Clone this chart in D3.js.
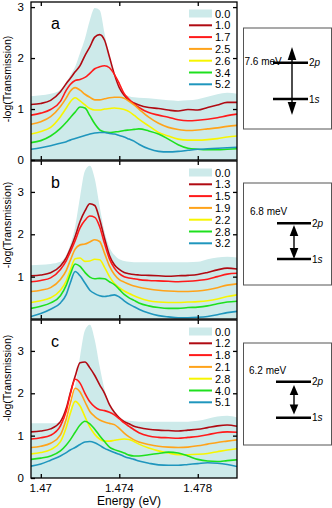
<!DOCTYPE html>
<html><head><meta charset="utf-8">
<script src="https://cdn.jsdelivr.net/npm/d3@7"></script>
<style>
html,body{margin:0;padding:0;background:#fff;}
svg{display:block;font-family:"Liberation Sans",Arial,sans-serif;}
</style></head>
<body><svg id="c" width="332" height="508"></svg>
<script>
// Energy grid (eV)
const energy = [1.4695,1.4700,1.4705,1.4710,1.4713,1.4715,1.47175,1.4720,1.47225,1.4725,1.47275,1.4730,1.47325,1.4735,1.47375,1.4740,1.47425,1.4745,1.47475,1.4750,1.4755,1.4760,1.4765,1.4770,1.4775,1.4780,1.4785,1.4790,1.4795,1.4800];
const xTicks = [1.470, 1.474, 1.478];
const xTickLabels = ["1.47", "1.474", "1.478"];
const yTicksA = [0, 1, 2, 3];
const yTicksB = [1, 2, 3];
const yTicksC = [0, 1, 2, 3];

// Panel a
const labelsA = ["0.0","1.0","1.7","2.5","2.6","3.4","5.2"];
const a00 = [1.25,1.27,1.30,1.38,1.53,1.66,1.83,2.10,2.38,2.74,2.98,2.94,2.48,1.99,1.64,1.42,1.30,1.25,1.23,1.22,1.21,1.19,1.17,1.16,1.17,1.19,1.24,1.29,1.32,1.30];
const a10 = [1.09,1.11,1.17,1.34,1.50,1.60,1.73,1.85,2.05,2.22,2.41,2.46,2.35,2.02,1.68,1.42,1.27,1.17,1.12,1.08,1.03,1.01,0.98,0.96,0.99,0.98,1.03,1.08,1.13,1.13];
const a17 = [0.88,0.92,0.99,1.15,1.37,1.48,1.56,1.58,1.62,1.70,1.79,1.83,1.85,1.81,1.68,1.50,1.30,1.19,1.10,1.03,0.93,0.88,0.84,0.79,0.77,0.78,0.80,0.83,0.87,0.90];
const a25 = [0.70,0.75,0.85,1.05,1.22,1.35,1.42,1.37,1.29,1.23,1.18,1.18,1.20,1.22,1.23,1.23,1.21,1.15,1.08,1.00,0.84,0.72,0.64,0.60,0.58,0.59,0.61,0.63,0.66,0.68];
const a26 = [0.51,0.56,0.64,0.85,1.02,1.14,1.22,1.16,1.08,1.01,0.98,0.98,1.00,1.01,1.02,1.01,0.99,0.95,0.88,0.80,0.67,0.54,0.47,0.41,0.39,0.39,0.40,0.42,0.45,0.47];
const a34 = [0.34,0.38,0.47,0.62,0.74,0.83,0.94,1.04,1.02,0.87,0.71,0.59,0.55,0.54,0.55,0.56,0.58,0.59,0.60,0.61,0.57,0.51,0.41,0.30,0.23,0.21,0.20,0.20,0.21,0.22];
const a52 = [0.21,0.24,0.28,0.33,0.36,0.39,0.42,0.45,0.48,0.51,0.53,0.54,0.54,0.52,0.51,0.48,0.45,0.41,0.37,0.31,0.22,0.17,0.16,0.17,0.19,0.21,0.22,0.23,0.24,0.25];

// Panel b
const labelsB = ["0.0","1.3","1.5","1.9","2.2","2.8","3.2"];
const b00 = [1.27,1.28,1.30,1.35,1.51,1.75,2.18,2.88,3.50,3.62,3.31,2.65,2.06,1.69,1.51,1.41,1.37,1.35,1.34,1.34,1.34,1.34,1.34,1.34,1.34,1.35,1.41,1.45,1.47,1.45];
const b13 = [1.02,1.04,1.09,1.25,1.45,1.65,1.95,2.30,2.55,2.72,2.68,2.35,1.90,1.50,1.28,1.17,1.10,1.07,1.05,1.04,1.03,1.02,1.01,1.02,1.03,1.05,1.10,1.16,1.20,1.18];
const b15 = [0.88,0.91,0.97,1.17,1.38,1.58,1.85,2.15,2.33,2.43,2.40,2.18,1.78,1.42,1.20,1.07,1.00,0.97,0.95,0.93,0.91,0.90,0.89,0.88,0.89,0.91,0.94,1.00,1.06,1.08];
const b19 = [0.65,0.68,0.74,0.93,1.15,1.38,1.65,1.75,1.77,1.82,1.87,1.83,1.55,1.25,1.05,0.93,0.87,0.82,0.78,0.75,0.71,0.68,0.66,0.65,0.65,0.66,0.69,0.74,0.80,0.83];
const b22 = [0.39,0.43,0.50,0.68,0.90,1.15,1.42,1.44,1.36,1.37,1.41,1.40,1.22,1.00,0.84,0.74,0.66,0.60,0.55,0.50,0.43,0.40,0.39,0.39,0.40,0.41,0.43,0.47,0.53,0.57];
const b28 = [0.25,0.30,0.38,0.55,0.80,1.05,1.30,1.24,1.10,0.99,0.95,0.96,0.95,0.88,0.81,0.70,0.58,0.50,0.44,0.38,0.31,0.27,0.25,0.25,0.27,0.28,0.31,0.36,0.40,0.42];
const b32 = [0.06,0.13,0.23,0.38,0.58,0.85,1.12,1.02,0.85,0.68,0.60,0.55,0.53,0.55,0.57,0.52,0.43,0.35,0.29,0.23,0.14,0.08,0.05,0.03,0.03,0.04,0.06,0.10,0.15,0.18];

// Panel c
const labelsC = ["0.0","1.2","1.8","2.1","2.8","4.0","5.1"];
const c00 = [1.29,1.29,1.29,1.31,1.39,1.62,2.17,2.87,3.49,3.62,3.26,2.63,2.09,1.74,1.54,1.43,1.37,1.35,1.34,1.33,1.33,1.33,1.33,1.33,1.33,1.35,1.40,1.45,1.47,1.43];
const c12 = [1.09,1.11,1.16,1.33,1.65,2.00,2.40,2.72,2.74,2.60,2.42,2.20,2.00,1.73,1.55,1.42,1.33,1.28,1.22,1.19,1.15,1.13,1.12,1.11,1.13,1.15,1.19,1.23,1.25,1.22];
const c18 = [0.92,0.95,1.01,1.23,1.58,1.97,2.33,2.24,2.00,1.80,1.68,1.61,1.59,1.55,1.49,1.40,1.30,1.22,1.14,1.07,0.99,0.96,0.95,0.94,0.96,0.98,1.02,1.07,1.09,1.08];
const c21 = [0.72,0.75,0.82,1.02,1.40,1.75,2.12,2.03,1.80,1.57,1.45,1.37,1.32,1.29,1.26,1.17,1.06,0.97,0.90,0.85,0.79,0.75,0.73,0.72,0.73,0.76,0.80,0.84,0.87,0.90];
const c28 = [0.57,0.60,0.67,0.86,1.20,1.52,1.81,1.70,1.45,1.20,1.03,0.92,0.87,0.87,0.89,0.91,0.92,0.91,0.86,0.80,0.71,0.64,0.59,0.55,0.55,0.56,0.58,0.62,0.66,0.69];
const c40 = [0.44,0.47,0.52,0.64,0.78,0.90,1.08,1.25,1.34,1.28,1.15,1.00,0.86,0.73,0.67,0.63,0.59,0.54,0.52,0.52,0.55,0.58,0.61,0.59,0.52,0.44,0.40,0.39,0.41,0.43];
const c51 = [0.28,0.33,0.42,0.52,0.60,0.66,0.72,0.79,0.85,0.86,0.83,0.77,0.70,0.65,0.60,0.56,0.51,0.47,0.44,0.40,0.35,0.31,0.30,0.30,0.32,0.34,0.36,0.35,0.32,0.27];

const lineColors = ["#b00a12","#ff1a1a","#ffa31a","#f7f500","#1ee01e","#1f96bd"];
const fillColor = "#cdeaea";

const energyLevels = [
  {gap:"7.6 meV"},{gap:"6.8 meV"},{gap:"6.2 meV"}
];

const svg = d3.select("#c");
const X0 = 31, X1 = 237;
const x = d3.scaleLinear().domain([1.4695, 1.4800]).range([X0, X1]);

const panels = [
  {id:"a", top:2, bottom:160, ymax:3.1, ticks:yTicksA, labels:labelsA, fill:a00, lines:[a10,a17,a25,a26,a34,a52], labelY:79},
  {id:"b", top:161, bottom:319, ymax:3.73, ticks:yTicksB, labels:labelsB, fill:b00, lines:[b13,b15,b19,b22,b28,b32], labelY:225},
  {id:"c", top:320, bottom:478, ymax:3.73, ticks:yTicksC, labels:labelsC, fill:c00, lines:[c12,c18,c21,c28,c40,c51], labelY:378}
];

panels.forEach((p, pi) => {
  const y = d3.scaleLinear().domain([0, p.ymax]).range([p.bottom, p.top]);
  const g = svg.append("g");
  const clipId = "clip" + p.id;
  svg.append("clipPath").attr("id", clipId).append("rect")
    .attr("x", X0).attr("y", p.top).attr("width", X1 - X0).attr("height", p.bottom - p.top);
  const pg = g.append("g").attr("clip-path", `url(#${clipId})`);
  const area = d3.area().x((d,i)=>x(energy[i])).y0(y(0)).y1(d=>y(d)).curve(d3.curveMonotoneX);
  pg.append("path").datum(p.fill).attr("d", area).attr("fill", fillColor);
  const line = d3.line().x((d,i)=>x(energy[i])).y(d=>y(d)).curve(d3.curveMonotoneX);
  p.lines.forEach((vals, k) => {
    pg.append("path").datum(vals).attr("d", line).attr("fill","none")
      .attr("stroke", lineColors[k]).attr("stroke-width", 1.6);
  });
  // frame
  g.append("rect").attr("x", X0).attr("y", p.top).attr("width", X1-X0).attr("height", p.bottom-p.top)
    .attr("fill","none").attr("stroke","#000").attr("stroke-width",1.3);
  // y ticks
  const yAxisL = d3.axisLeft(y).tickValues(p.ticks).tickSize(-4).tickPadding(7).tickFormat(d3.format("d"));
  const ya = g.append("g").attr("transform",`translate(${X0},0)`).call(yAxisL);
  ya.select(".domain").remove();
  ya.selectAll("text").attr("font-size", 11.5).attr("fill","#000");
  const yAxisR = d3.axisRight(y).tickValues(p.ticks.filter(v=>v>0)).tickSize(-4).tickFormat("");
  const yr = g.append("g").attr("transform",`translate(${X1},0)`).call(yAxisR);
  yr.select(".domain").remove();
  // x ticks top/bottom
  const xb = g.append("g").attr("transform",`translate(0,${p.bottom})`)
    .call(d3.axisBottom(x).tickValues(xTicks).tickSize(-4).tickFormat(""));
  xb.select(".domain").remove();
  const xt = g.append("g").attr("transform",`translate(0,${p.top})`)
    .call(d3.axisTop(x).tickValues(xTicks).tickSize(-4).tickFormat(""));
  xt.select(".domain").remove();
  g.selectAll(".tick line").attr("stroke","#000").attr("stroke-width",1.3);
  // y label
  g.append("text").attr("transform",`translate(11,${p.labelY}) rotate(-90)`)
    .attr("text-anchor","middle").attr("font-size",10.5).text("-log(Transmission)");
  // panel letter
  g.append("text").attr("x", 51).attr("y", p.top + 27).attr("font-size", 16).text(p.id);
  // legend
  const lg = g.append("g");
  p.labels.forEach((lab, k) => {
    const ly = p.top + 11.5 + k * 11.8;
    if (k === 0) {
      lg.append("rect").attr("x",189).attr("y",ly-4).attr("width",23).attr("height",8).attr("fill",fillColor);
    } else {
      lg.append("line").attr("x1",189).attr("x2",212).attr("y1",ly).attr("y2",ly)
        .attr("stroke", lineColors[k-1]).attr("stroke-width", 2);
    }
    lg.append("text").attr("x",215).attr("y",ly+4).attr("font-size",11).text(lab);
  });
});

// x axis labels for bottom panel
const last = panels[2];
xTicks.forEach((t,i) => {
  svg.append("text").attr("x", x(t)).attr("y", last.bottom + 14).attr("text-anchor","middle")
    .attr("font-size", 11.5).text(xTickLabels[i]);
});
svg.append("text").attr("x", x(1.4745)).attr("y", 505).attr("text-anchor","middle")
  .attr("font-size", 12).text("Energy (eV)");

// energy level diagrams
const boxes = [
  {top:28, bot:129, tx:244.5, ty:65, l2:62.7, l1:99, lx0:273, lx1:308, ax:292, tipTop:47, tipBot:115, head:13, outward:true},
  {top:183, bot:285, tx:250, ty:215, l2:223.3, l1:259, lx0:277, lx1:311, ax:294, tipTop:225, tipBot:259, head:11, outward:false},
  {top:343, bot:445, tx:249, ty:374, l2:381.7, l1:417.7, lx0:276, lx1:311, ax:294, tipTop:385, tipBot:414.5, head:10, outward:false}
];
boxes.forEach((b, i) => {
  const g = svg.append("g");
  g.append("rect").attr("x",243.5).attr("y",b.top).attr("width",88).attr("height",b.bot-b.top)
    .attr("fill","#fff").attr("stroke","#555").attr("stroke-width",1);
  g.append("text").attr("x",b.tx).attr("y",b.ty).attr("font-size",10).text(energyLevels[i].gap);
  [b.l2, b.l1].forEach((ly, k) => {
    g.append("line").attr("x1",b.lx0).attr("x2",b.lx1).attr("y1",ly).attr("y2",ly)
      .attr("stroke","#000").attr("stroke-width",2.6);
    const t = g.append("text").attr("x",b.lx1+1).attr("y",ly+3.5).attr("font-size",10);
    t.append("tspan").text(k===0?"2":"1");
    t.append("tspan").attr("font-style","italic").text(k===0?"p":"s");
  });
  const h = b.head, w = 4.3;
  g.append("line").attr("x1",b.ax).attr("x2",b.ax).attr("y1",b.tipTop+h-1).attr("y2",b.tipBot-h+1)
    .attr("stroke","#000").attr("stroke-width",1.4);
  g.append("path").attr("d",`M${b.ax},${b.tipTop} L${b.ax-w},${b.tipTop+h} L${b.ax+w},${b.tipTop+h} Z`).attr("fill","#000");
  g.append("path").attr("d",`M${b.ax},${b.tipBot} L${b.ax-w},${b.tipBot-h} L${b.ax+w},${b.tipBot-h} Z`).attr("fill","#000");
});
</script></body></html>
